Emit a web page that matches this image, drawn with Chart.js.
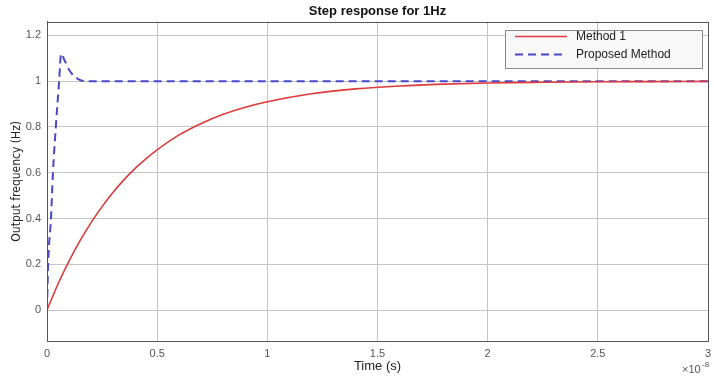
<!DOCTYPE html>
<html>
<head>
<meta charset="utf-8">
<script src="https://cdn.jsdelivr.net/npm/chart.js@4/dist/chart.umd.min.js"></script>
<style>
  html, body { margin: 0; padding: 0; background: #fff; }
  #wrap { width: 714px; height: 379px; }
</style>
</head>
<body>
<div id="wrap"><canvas id="step"></canvas></div>
<script>
// time axis is in units of 1e-8 s
const method1T = [0, 0.05, 0.1, 0.15, 0.2, 0.25, 0.3, 0.35, 0.4, 0.45, 0.5, 0.6, 0.7, 0.8, 0.9, 1.0, 1.2, 1.4, 1.6, 1.8, 2.0, 2.25, 2.5, 2.75, 3.0];
const method1Y = [0, 0.114, 0.214, 0.303, 0.382, 0.452, 0.515, 0.57, 0.619, 0.662, 0.70, 0.765, 0.815, 0.855, 0.886, 0.91, 0.945, 0.966, 0.979, 0.987, 0.992, 0.995, 0.997, 0.998, 0.999];

const proposedT = [0, 0.005, 0.018, 0.027, 0.04, 0.055, 0.064, 0.08, 0.1, 0.115, 0.14, 0.17, 0.2, 1, 2, 3];
const proposedY = [0, 0.2, 0.4, 0.6, 0.8, 1.0, 1.12, 1.09, 1.05, 1.03, 1.01, 1.0, 1.0, 1.0, 1.0, 1.0];

const xTicks = [0, 0.5, 1, 1.5, 2, 2.5, 3];
const yTicks = [0, 0.2, 0.4, 0.6, 0.8, 1, 1.2];

const toPoints = (xs, ys) => xs.map((x, i) => ({ x: x, y: ys[i] }));

// axes box, legend inside the axes + the x10^-8 exponent, like matlab
const extras = {
  id: "extras",
  afterDraw(chart) {
    const ctx = chart.ctx;
    const area = chart.chartArea;
    ctx.save();

    // full box
    ctx.strokeStyle = "#555";
    ctx.lineWidth = 1;
    ctx.strokeRect(Math.round(area.left) + 0.5, Math.round(area.top) + 0.5,
      Math.round(area.right - area.left), Math.round(area.bottom - area.top));

    // legend
    const lx = 505, ly = 30, lw = 197, lh = 38;
    ctx.fillStyle = "#f8f8f8";
    ctx.fillRect(lx, ly, lw, lh);
    ctx.strokeStyle = "#8a8a8a";
    ctx.strokeRect(lx + 0.5, ly + 0.5, lw, lh);

    chart.data.datasets.forEach((ds, i) => {
      const y = ly + 6 + i * 18 + 0.5;
      ctx.strokeStyle = ds.borderColor;
      ctx.lineWidth = ds.borderWidth;
      ctx.setLineDash(ds.borderDash || []);
      ctx.beginPath();
      ctx.moveTo(lx + 10, y);
      ctx.lineTo(lx + 62, y);
      ctx.stroke();
      ctx.setLineDash([]);
      ctx.fillStyle = "#222";
      ctx.font = "12px 'Liberation Sans', Arial, sans-serif";
      ctx.textBaseline = "middle";
      ctx.textAlign = "left";
      ctx.fillText(ds.label, lx + 71, y);
    });

    // exponent
    ctx.fillStyle = "#555";
    ctx.textBaseline = "alphabetic";
    ctx.font = "11px 'Liberation Sans', Arial, sans-serif";
    ctx.fillText("\u00d710", area.right - 26, 373);
    ctx.font = "8px 'Liberation Sans', Arial, sans-serif";
    ctx.fillText("-8", area.right - 6, 367);

    ctx.restore();
  },
};

new Chart("step", {
  type: "line",
  data: {
    datasets: [
      {
        label: "Method 1",
        data: toPoints(method1T, method1Y),
        borderColor: "#dd3b3b",
        borderWidth: 1.6,
        pointRadius: 0,
        cubicInterpolationMode: "monotone",
        fill: false,
      },
      {
        label: "Proposed Method",
        data: toPoints(proposedT, proposedY),
        borderColor: "#4848c8",
        borderWidth: 2,
        borderDash: [8, 5],
        pointRadius: 0,
        cubicInterpolationMode: "monotone",
        fill: false,
      },
    ],
  },
  options: {
    animation: false,
    responsive: true,
    maintainAspectRatio: false,
    layout: { padding: { left: 0, right: 6, top: 0, bottom: 0 } },
    plugins: {
      legend: { display: false },
      tooltip: { enabled: false },
      title: {
        display: true,
        text: "Step response for 1Hz",
        fullSize: false,
        color: "#111",
        font: { family: "'Liberation Sans', Arial, sans-serif", size: 13, weight: "bold" },
        padding: { top: 4, bottom: 2 },
      },
    },
    scales: {
      x: {
        type: "linear",
        min: 0,
        max: 3,
        afterBuildTicks: (scale) => {
          scale.ticks = xTicks.map((v) => ({ value: v }));
        },
        afterFit: (scale) => {
          scale.height = 38;
          // tick padding would otherwise also push the right edge in
          scale.paddingLeft = 0;
          scale.paddingRight = 0;
        },
        ticks: {
          color: "#555",
          font: { family: "'Liberation Sans', Arial, sans-serif", size: 11 },
          padding: 6,
          maxRotation: 0,
          callback: (v) => String(v),
        },
        grid: { color: "#c4c4c4", drawTicks: false },
        border: { color: "#555", width: 1 },
        title: {
          display: true,
          text: "Time (s)",
          color: "#222",
          font: { family: "'Liberation Sans', Arial, sans-serif", size: 13 },
          padding: { top: 0, bottom: 5 },
        },
      },
      y: {
        type: "linear",
        min: -0.135,
        max: 1.26,
        afterBuildTicks: (scale) => {
          scale.ticks = yTicks.map((v) => ({ value: v }));
        },
        afterFit: (scale) => {
          scale.width = 47;
        },
        ticks: {
          color: "#555",
          font: { family: "'Liberation Sans', Arial, sans-serif", size: 11 },
          padding: 6,
          callback: (v) => String(v),
        },
        grid: { color: "#c4c4c4", drawTicks: false },
        border: { color: "#555", width: 1 },
        title: {
          display: true,
          text: "Output frequency (Hz)",
          color: "#222",
          font: { family: "'DejaVu Sans Condensed', 'Liberation Sans Narrow', Arial, sans-serif", size: 12 },
          padding: { top: 10, bottom: 0 },
        },
      },
    },
  },
  plugins: [extras],
});
</script>
</body>
</html>
